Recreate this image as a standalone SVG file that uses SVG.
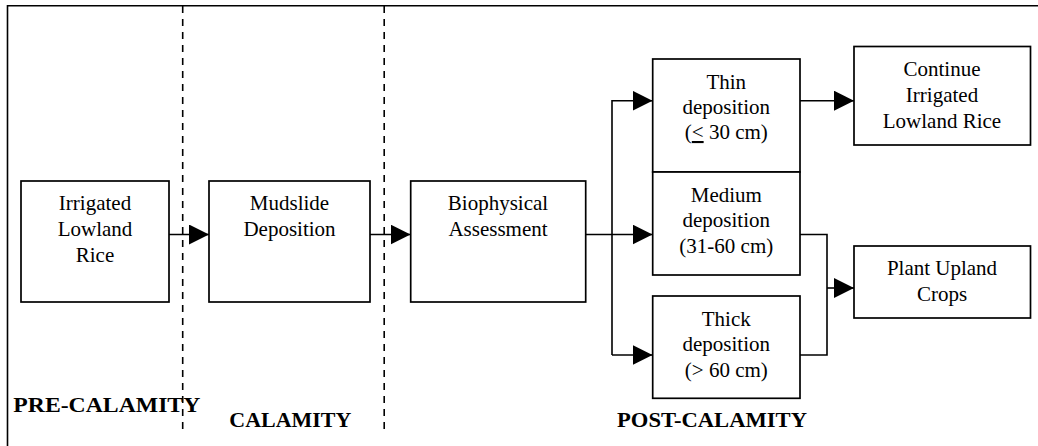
<svg xmlns="http://www.w3.org/2000/svg" width="1038" height="446" viewBox="0 0 1038 446">
<style>
.box{fill:#fff;stroke:#000;stroke-width:1.7}
.t{font-family:"Liberation Serif","Times New Roman",serif;font-size:21px;fill:#000;text-anchor:middle}
.lab{font-family:"Liberation Serif","Times New Roman",serif;font-size:22px;font-weight:bold;fill:#000}
.ln{fill:none;stroke:#000;stroke-width:1.6}
.dash{fill:none;stroke:#000;stroke-width:1.6;stroke-dasharray:7 6}
</style>
<defs>
<marker id="ah" markerUnits="userSpaceOnUse" markerWidth="20" markerHeight="20" viewBox="0 0 20 20" refX="20" refY="10" orient="auto">
<path d="M0,0 L20,10 L0,20 Z" fill="#000"/>
</marker>
</defs>
<rect width="1038" height="446" fill="#fff"/>
<g id="frame">
<path class="ln" d="M7.5,446 V5.8 H1038" stroke-width="1.8"/>
<path class="dash" d="M182.7,6 V432"/>
<path class="dash" d="M384.2,6 V432"/>
</g>
<g id="connectors">
<path class="ln" d="M169,234.5 H209" marker-end="url(#ah)"/>
<path class="ln" d="M370,234.5 H410.5" marker-end="url(#ah)"/>
<path class="ln" d="M585.7,234.5 H652.5" marker-end="url(#ah)"/>
<path class="ln" d="M612,355 V100.7 H652.5" marker-end="url(#ah)"/>
<path class="ln" d="M612,355 H652.5" marker-end="url(#ah)"/>
<path class="ln" d="M800,100.7 H854" marker-end="url(#ah)"/>
<path class="ln" d="M800,234.5 H827 V355 H800"/>
<path class="ln" d="M827,288 H854" marker-end="url(#ah)"/>
</g>
<g id="irrigated">
<rect class="box" x="21" y="181" width="148" height="121"/>
<text class="t" x="95" y="210">Irrigated</text>
<text class="t" x="95" y="235.5">Lowland</text>
<text class="t" x="95" y="261.5">Rice</text>
</g>
<g id="mudslide">
<rect class="box" x="209" y="181" width="161" height="121"/>
<text class="t" x="289.5" y="210">Mudslide</text>
<text class="t" x="289.5" y="235.5">Deposition</text>
</g>
<g id="biophysical">
<rect class="box" x="410.7" y="181" width="175" height="121"/>
<text class="t" x="498" y="210">Biophysical</text>
<text class="t" x="498" y="236">Assessment</text>
</g>
<g id="thin">
<rect class="box" x="652.7" y="59" width="147.3" height="113"/>
<text class="t" x="726.3" y="89">Thin</text>
<text class="t" x="726.3" y="114">deposition</text>
<text class="t" x="726.3" y="139">(<tspan text-decoration="underline">&lt;</tspan> 30 cm)</text>
</g>
<g id="medium">
<rect class="box" x="652.7" y="172" width="147.3" height="103"/>
<text class="t" x="726.3" y="202">Medium</text>
<text class="t" x="726.3" y="227">deposition</text>
<text class="t" x="726.3" y="252.5">(31-60 cm)</text>
</g>
<g id="thick">
<rect class="box" x="652.7" y="296" width="147.3" height="102.3"/>
<text class="t" x="726.3" y="326">Thick</text>
<text class="t" x="726.3" y="351">deposition</text>
<text class="t" x="726.3" y="376.5">(&gt; 60 cm)</text>
</g>
<g id="continue">
<rect class="box" x="854" y="46.5" width="176.5" height="98.5"/>
<text class="t" x="942" y="76">Continue</text>
<text class="t" x="942" y="102">Irrigated</text>
<text class="t" x="942" y="127.5">Lowland Rice</text>
</g>
<g id="plant">
<rect class="box" x="854" y="246" width="176.5" height="72"/>
<text class="t" x="942" y="275">Plant Upland</text>
<text class="t" x="942" y="301">Crops</text>
</g>
<g id="phases">
<text class="lab" x="13.3" y="411.7" textLength="187" lengthAdjust="spacingAndGlyphs">PRE-CALAMITY</text>
<text class="lab" x="229.3" y="426.7" textLength="122" lengthAdjust="spacingAndGlyphs">CALAMITY</text>
<text class="lab" x="617" y="426.7" textLength="190" lengthAdjust="spacingAndGlyphs">POST-CALAMITY</text>
</g>
</svg>
